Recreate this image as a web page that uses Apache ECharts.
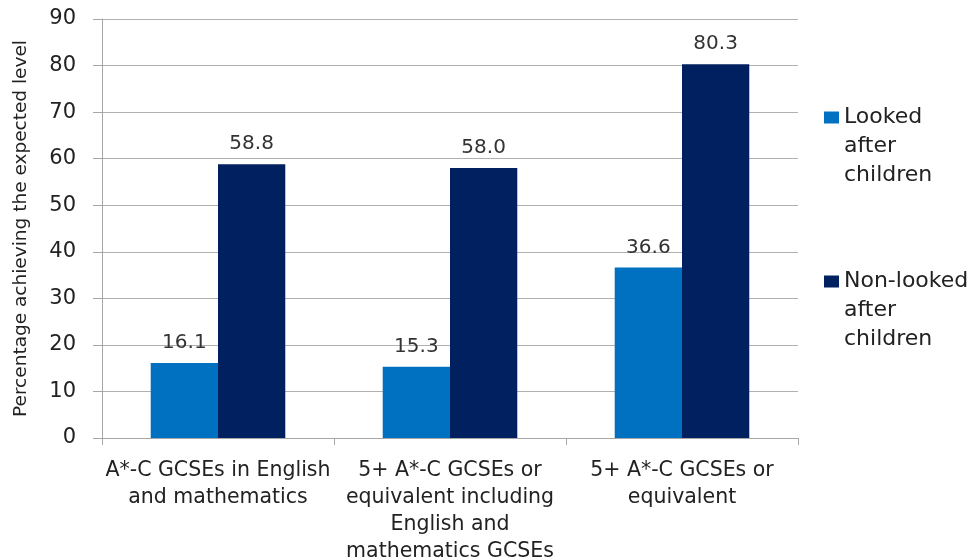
<!DOCTYPE html>
<html>
<head>
<meta charset="utf-8">
<script src="https://cdn.jsdelivr.net/npm/echarts@6/dist/echarts.min.js"></script>
<style>html,body{margin:0;padding:0;background:#fff}#c{width:976px;height:558px}</style>
</head>
<body>
<div id="c"></div>
<script>
const categories = [
  'A*-C GCSEs in English\nand mathematics',
  '5+ A*-C GCSEs or\nequivalent including\nEnglish and\nmathematics GCSEs',
  '5+ A*-C GCSEs or\nequivalent'
];
const lookedAfter = [16.1, 15.3, 36.6];
const nonLookedAfter = [58.8, 58.0, 80.3];
const seriesNames = ['Looked\nafter\nchildren', 'Non-looked\nafter\nchildren'];
const yTicks = [0, 10, 20, 30, 40, 50, 60, 70, 80, 90];

const font = 'DejaVu Sans';
const chart = echarts.init(document.getElementById('c'));
chart.setOption({
  animation: false,
  textStyle: { fontFamily: font },
  grid: { left: 102, right: 178, top: 19, bottom: 120, outerBoundsMode: 'none', containLabel: false },
  legend: {
    orient: 'vertical',
    left: 819, top: 40,
    itemWidth: 15, itemHeight: 12, itemGap: 19,
    icon: 'rect',
    formatter: name => '\n\n' + name,
    textStyle: { fontFamily: font, fontSize: 22, color: '#222', lineHeight: 29 },
    data: seriesNames
  },
  xAxis: {
    type: 'category',
    data: categories,
    axisLine: { lineStyle: { color: '#a6a6a6', width: 1 } },
    axisTick: { show: true, length: 7, lineStyle: { color: '#a6a6a6' } },
    axisLabel: { fontFamily: font, fontSize: 20.5, color: '#222', lineHeight: 27, margin: 19, interval: 0 }
  },
  yAxis: {
    type: 'value',
    min: yTicks[0], max: yTicks[yTicks.length - 1], interval: 10,
    name: 'Percentage achieving the expected level',
    nameLocation: 'middle', nameGap: 71,
    nameTextStyle: { fontFamily: font, fontSize: 18.5, color: '#222' },
    axisLine: { show: true, lineStyle: { color: '#a6a6a6' } },
    axisTick: { show: true, length: 9, lineStyle: { color: '#a6a6a6' } },
    splitLine: { lineStyle: { color: '#b0b0b0' } },
    axisLabel: { fontFamily: font, fontSize: 21, color: '#222', margin: 26 }
  },
  series: [
    {
      name: seriesNames[0], type: 'bar', data: lookedAfter,
      barGap: '0%', barCategoryGap: '42%',
      itemStyle: { color: '#0070c0' },
      label: { show: true, position: 'top', distance: 10, formatter: p => p.value.toFixed(1), fontFamily: font, fontSize: 20, color: '#333' }
    },
    {
      name: seriesNames[1], type: 'bar', data: nonLookedAfter,
      barGap: '0%', barCategoryGap: '42%',
      itemStyle: { color: '#002060' },
      label: { show: true, position: 'top', distance: 10, formatter: p => p.value.toFixed(1), fontFamily: font, fontSize: 20, color: '#333' }
    }
  ]
});
</script>
</body>
</html>
